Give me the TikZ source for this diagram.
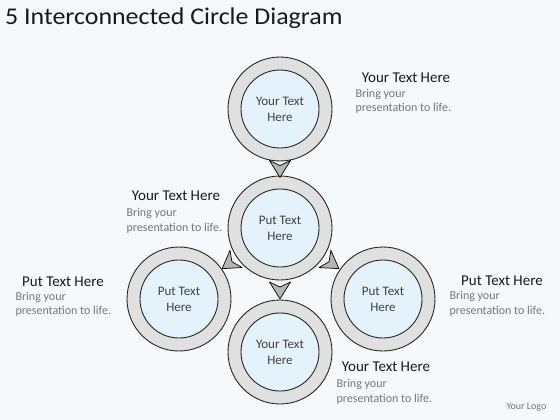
\documentclass[tikz,border=0pt]{standalone}
\usepackage{fontspec}
\setmainfont{Carlito}
\usetikzlibrary{calc}
\definecolor{bg}{HTML}{F6F9FB}
\definecolor{ring}{HTML}{E0E0E0}
\definecolor{core}{HTML}{E4F3FB}
\definecolor{bodytxt}{HTML}{757575}
\definecolor{arr}{HTML}{B5B5B5}
\begin{document}
\begin{tikzpicture}[x=1pt,y=-1pt,
 outer/.style={circle, draw=black!85, line width=0.9pt, fill=ring, minimum size=104pt, inner sep=0pt},
 inner/.style={circle, draw=black!85, line width=0.9pt, fill=core, minimum size=78pt, inner sep=0pt, align=center, font=\fontsize{13}{16}\selectfont, text=black!75},
 head/.style={anchor=base, font=\fontsize{15}{17}\selectfont, text=black!90},
 bodyline/.style={anchor=base west, font=\fontsize{12}{14}\selectfont, text=bodytxt},
 chev/.pic={\draw[fill=arr, line width=0.7pt, line join=round] (9,0) -- (-8,-10.5) -- (-3,0) -- (-8,10.5) -- cycle;}
]
\fill[bg] (0,0) rectangle (560,420);
\useasboundingbox (0,0) rectangle (560,420);

\node[anchor=base west, font=\fontsize{24}{26}\selectfont, text=black!90, inner sep=0pt] (title) at (5,25) {\scalebox{1.08}[1]{5 Interconnected Circle Diagram}};

% circles
\node[outer] (t) at (280,109) {};
\node[inner] (ti) at (t) {Your Text\\Here};
\node[outer] (m) at (280,228) {};
\node[inner] (mi) at (m) {Put Text\\Here};
\node[outer] (l) at (179,299) {};
\node[inner] (li) at (l) {Put Text\\Here};
\node[outer] (r) at (383,299) {};
\node[inner] (ri) at (r) {Put Text\\Here};
\node[outer] (b) at (280,352) {};
\node[inner] (bi) at (b) {Your Text\\Here};

% arrowheads
\path (t) -- (m) pic[pos=0.5, sloped, allow upside down]{chev};
\path (m) -- (l) pic[pos=0.5, sloped, allow upside down]{chev};
\path (m) -- (r) pic[pos=0.5, sloped, allow upside down]{chev};
\path (m) -- (b) pic[pos=0.5, sloped, allow upside down]{chev};

% labels
\node[head] (h1) at (406,82) {Your Text Here};
\node[bodyline] (h1a) at (352,98) {Bring your};
\node[bodyline] (h1b) at (352,112) {presentation to life.};

\node[head] (h2) at (176,200) {Your Text Here};
\node[bodyline] (h2a) at (123,216) {Bring your};
\node[bodyline] (h2b) at (123,231) {presentation to life.};

\node[head] (h3) at (63,286) {Put Text Here};
\node[bodyline] (h3a) at (12,300) {Bring your};
\node[bodyline] (h3b) at (12,314) {presentation to life.};

\node[head] (h4) at (502,285) {Put Text Here};
\node[bodyline] (h4a) at (446,299) {Bring your};
\node[bodyline] (h4b) at (446,314) {presentation to life.};

\node[head] (h5) at (386,371) {Your Text Here};
\node[bodyline] (h5a) at (333,387) {Bring your};
\node[bodyline] (h5b) at (333,402) {presentation to life.};

\node[anchor=base west, font=\fontsize{10}{12}\selectfont, text=black!55] (logo) at (503,409) {Your Logo};
\end{tikzpicture}
\end{document}
